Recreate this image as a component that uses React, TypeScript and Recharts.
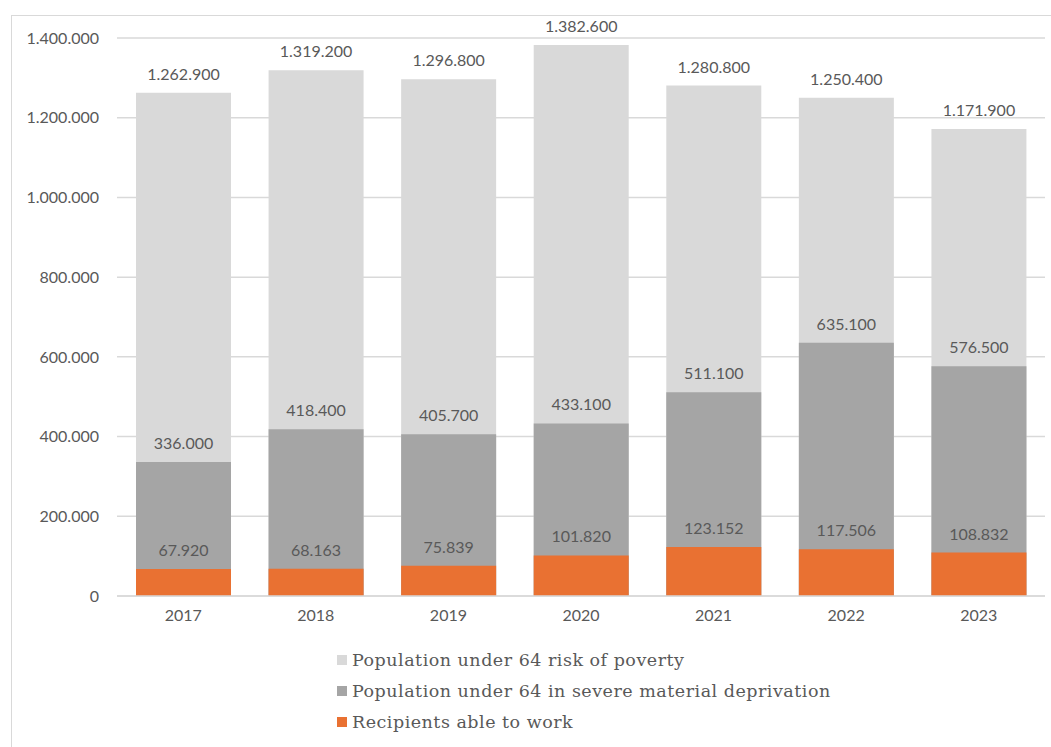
import { Bar, BarChart, CartesianGrid, LabelList, XAxis, YAxis } from 'recharts'

const years = ['2017', '2018', '2019', '2020', '2021', '2022', '2023']
const riskOfPoverty = [1262900, 1319200, 1296800, 1382600, 1280800, 1250400, 1171900]
const severeDeprivation = [336000, 418400, 405700, 433100, 511100, 635100, 576500]
const recipientsAbleToWork = [67920, 68163, 75839, 101820, 123152, 117506, 108832]
const yTicks = [0, 200000, 400000, 600000, 800000, 1000000, 1200000, 1400000]

const SERIES = [
  { key: 'risk', name: 'Population under 64 risk of poverty', color: '#d9d9d9' },
  { key: 'deprivation', name: 'Population under 64 in severe material deprivation', color: '#a5a5a5' },
  { key: 'recipients', name: 'Recipients able to work', color: '#e97132' },
]

const TEXT = '#595959'
const fmt = (v: number) => String(v).replace(/\B(?=(\d{3})+(?!\d))/g, '.')

export default function App() {
  const data = years.map((year, i) => ({
    year,
    risk: riskOfPoverty[i],
    deprivation: severeDeprivation[i],
    recipients: recipientsAbleToWork[i],
  }))

  return (
    <div style={{ position: 'absolute', left: 0, top: 0, width: 1051, height: 747, background: '#fff', overflow: 'hidden' }}>
      <div
        style={{
          position: 'absolute',
          left: 11,
          top: 15,
          width: 1060,
          height: 760,
          border: '1px solid #d9d9d9',
          boxSizing: 'border-box',
        }}
      />
      <BarChart
        width={1051}
        height={747}
        data={data}
        margin={{ top: 38, right: 6, bottom: 121, left: 0 }}
        barSize={95}
        barGap={-95}
        style={{ position: 'absolute', left: 0, top: 0, fontFamily: 'Lato, sans-serif' }}
      >
        <CartesianGrid vertical={false} stroke="#d9d9d9" strokeWidth={1.5} />
        <XAxis
          dataKey="year"
          height={30}
          tickLine={false}
          axisLine={{ stroke: '#d9d9d9', strokeWidth: 1.5 }}
          tick={{ fill: TEXT, fontSize: 16 }}
          tickMargin={8}
        />
        <YAxis
          width={117}
          domain={[0, 1400000]}
          ticks={yTicks}
          tickFormatter={fmt}
          axisLine={false}
          tickLine={false}
          tick={{ fill: TEXT, fontSize: 16 }}
          tickMargin={12}
        />
        {SERIES.map((s) => (
          <Bar key={s.key} dataKey={s.key} fill={s.color} isAnimationActive={false}>
            <LabelList
              dataKey={s.key}
              position="top"
              offset={13}
              formatter={(v: any) => fmt(Number(v))}
              style={{ fill: TEXT, fontSize: 16 }}
            />
          </Bar>
        ))}
      </BarChart>
      <div
        style={{
          position: 'absolute',
          left: 337,
          top: 644,
          fontFamily: '"DejaVu Serif", serif',
          fontSize: 17.5,
          letterSpacing: 0.5,
          color: TEXT,
        }}
      >
        {SERIES.map((s) => (
          <div key={s.key} style={{ display: 'flex', alignItems: 'center', height: 31 }}>
            <span style={{ width: 10, height: 10, background: s.color, marginRight: 5, display: 'inline-block' }} />
            <span>{s.name}</span>
          </div>
        ))}
      </div>
    </div>
  )
}
